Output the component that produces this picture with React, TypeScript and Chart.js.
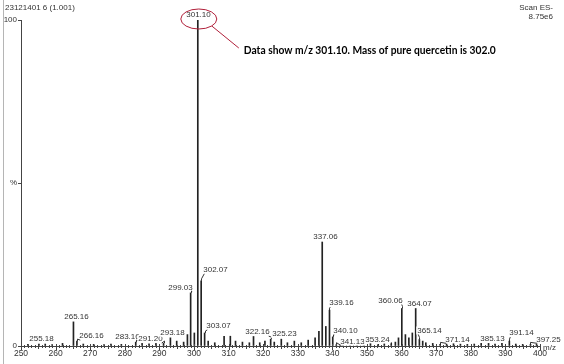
import React, { useEffect, useRef } from "react";
import { Chart, registerables } from "chart.js";

Chart.register(...registerables);

// ---- data ----
const peakMz = [
  252, 255.18, 257, 259, 262, 265.16, 266.16, 268, 271, 274, 276, 279, 283.16, 285, 287, 289,
  291.2, 293.18, 295, 297, 298.1, 299.03, 300.1, 301.1, 302.07, 303.07, 304.1, 306, 308.7, 310.5,
  312, 314, 316, 317.2, 319, 320.5, 322.16, 323.2, 325.23, 327, 329, 331, 333, 335, 336.1, 337.06,
  338.1, 339.16, 340.1, 341.13, 343, 345, 347, 349, 351, 353.24, 355, 357, 358.2, 359.1, 360.06,
  361.1, 362.1, 363.1, 364.07, 365.14, 366.1, 367, 369, 371.14, 373, 375, 377, 379, 381, 383,
  385.13, 387, 389, 391.14, 393, 395, 397.25, 399,
];
const peakIntensity = [
  0.5, 0.6, 0.6, 0.4, 0.8, 7.4, 1.5, 0.6, 0.5, 0.4, 0.6, 0.5, 1.2, 0.8, 0.7, 1.0,
  0.9, 2.5, 1.5, 1.2, 3.5, 16.3, 4.0, 100, 20, 4.0, 1.5, 1.0, 3.0, 3.0,
  1.5, 1.2, 1.0, 3.5, 1.0, 1.5, 2.1, 1.2, 2.1, 1.0, 1.5, 1.0, 1.8, 2.5, 4.5, 31.9,
  6.0, 11, 2.8, 0.4, 0.8, 0.6, 0.8, 1.0, 0.8, 0.5, 0.7, 1.0, 1.2, 2.5, 11.5,
  3.5, 2.5, 4.0, 11.5, 2.0, 1.5, 1.0, 0.8, 0.5, 0.6, 0.8, 0.6, 0.5, 0.6, 0.8,
  0.8, 0.6, 0.8, 1.5, 0.6, 0.5, 0.5, 0.5,
];
const labelledMz = [
  255.18, 265.16, 266.16, 283.16, 291.2, 293.18, 299.03, 301.1, 302.07, 303.07, 322.16, 325.23,
  337.06, 339.16, 340.1, 341.13, 353.24, 360.06, 364.07, 365.14, 371.14, 385.13, 391.14, 397.25,
];
const xTickValues = [250, 260, 270, 280, 290, 300, 310, 320, 330, 340, 350, 360, 370, 380, 390, 400];
const yTickLabels: Record<number, string> = { 0: "0", 50: "%", 100: "100" };
const headerLeft = "23121401 6 (1.001)";
const headerRight = ["Scan ES-", "8.75e6"];
const axisUnit = "m/z";
const annotationText = "Data show m/z 301.10. Mass of pure quercetin is 302.0";
const annotatedMz = 301.1;

// ---- style: label offsets (px) relative to default position above the peak ----
const labelOffset: Record<string, [number, number]> = {
  "255.18": [2, 0],
  "265.16": [3, 0],
  "266.16": [14, 0],
  "283.16": [-9, 0],
  "291.20": [-14, 1],
  "293.18": [2, 0],
  "299.03": [-11, 0],
  "302.07": [14, -6],
  "303.07": [13, -2],
  "322.16": [-14, -2],
  "325.23": [3, 0],
  "337.06": [3, 0],
  "339.16": [12, -2],
  "340.10": [12, -1],
  "341.13": [16, 2],
  "353.24": [-1, 0],
  "360.06": [-12, -3],
  "364.07": [3, 0],
  "365.14": [10, -4],
  "371.14": [17, 0],
  "385.13": [3, 0],
  "391.14": [12, -3],
  "397.25": [18, 0],
};

const FONT = "'Liberation Sans', Arial, sans-serif";

const decorPlugin = {
  id: "decor",
  afterDatasetsDraw(chart: any) {
    const { ctx, scales } = chart;
    const x = scales.x;
    const y = scales.y;
    const base = y.getPixelForValue(0);
    ctx.save();

    // minor / major ticks on x axis
    ctx.strokeStyle = "#444";
    ctx.lineWidth = 1;
    for (let m = xTickValues[0]; m <= xTickValues[xTickValues.length - 1]; m++) {
      const px = Math.round(x.getPixelForValue(m)) + 0.5;
      const major = m % 10 === 0;
      const mid = m % 5 === 0;
      ctx.beginPath();
      ctx.moveTo(px, base - (major ? 2 : 1));
      ctx.lineTo(px, base + (major ? 4 : mid ? 3 : 2));
      ctx.stroke();
    }

    // peak labels
    ctx.font = `8px ${FONT}`;
    ctx.textAlign = "center";
    ctx.textBaseline = "middle";
    labelledMz.forEach((m) => {
      const i = peakMz.indexOf(m);
      const v = peakIntensity[i];
      const px = Math.round(x.getPixelForValue(m)) + 0.5;
      const top = y.getPixelForValue(v);
      const text = m.toFixed(2);
      const [dx, dy] = labelOffset[text] || [0, 0];
      const cx = px + dx;
      const cy = top - 5 + dy;
      const w = ctx.measureText(text).width;
      ctx.fillStyle = "#fff";
      ctx.fillRect(cx - w / 2 - 1, cy - 4, w + 2, 8);
      if (Math.abs(dx) > 5) {
        const ex = cx - Math.sign(dx) * (w / 2 - 1);
        ctx.strokeStyle = "#333";
        ctx.beginPath();
        ctx.moveTo(px, top);
        ctx.lineTo(px, top - 2);
        ctx.lineTo(ex, cy + 4);
        ctx.stroke();
      }
      ctx.fillStyle = "#333";
      ctx.fillText(text, cx, cy);
    });

    // annotation ellipse + callout
    const ax = x.getPixelForValue(annotatedMz);
    const ay = y.getPixelForValue(100) - 1;
    ctx.strokeStyle = "#b0203a";
    ctx.lineWidth = 1;
    ctx.beginPath();
    ctx.ellipse(ax + 1, ay, 18, 10, 0, 0, Math.PI * 2);
    ctx.stroke();
    ctx.beginPath();
    ctx.moveTo(ax + 14, ay + 7);
    ctx.lineTo(ax + 41, ay + 29);
    ctx.stroke();
    ctx.font = `bold 11px Lato, ${FONT}`;
    ctx.textAlign = "left";
    ctx.fillStyle = "#000";
    const tw = ctx.measureText(annotationText).width;
    const target = 252;
    ctx.save();
    ctx.translate(ax + 46, ay + 31);
    ctx.scale(target / tw, 1);
    ctx.fillText(annotationText, 0, 0);
    ctx.restore();

    // unit
    ctx.font = `8px ${FONT}`;
    ctx.fillStyle = "#333";
    ctx.textAlign = "left";
    ctx.fillText(axisUnit, x.right + 3, base + 2);

    // header
    ctx.font = `8px ${FONT}`;
    ctx.textAlign = "left";
    ctx.fillText(headerLeft, 5, 8);
    ctx.textAlign = "right";
    ctx.fillText(headerRight[0], 553, 8);
    ctx.fillText(headerRight[1], 553, 17);

    // left frame line
    ctx.strokeStyle = "#b5b5b5";
    ctx.beginPath();
    ctx.moveTo(3.5, 0);
    ctx.lineTo(3.5, 364);
    ctx.stroke();

    ctx.restore();
  },
};

export default function App() {
  const ref = useRef<HTMLCanvasElement | null>(null);
  useEffect(() => {
    document.body.style.margin = "0";
    const canvas = ref.current;
    if (!canvas) return;
    const chart = new Chart(canvas, {
      type: "bar",
      data: {
        datasets: [
          {
            data: peakMz.map((m, i) => ({ x: m, y: peakIntensity[i] })),
            backgroundColor: "#222",
            borderWidth: 0,
            barThickness: 1,
          },
        ],
      },
      options: {
        responsive: false,
        animation: false,
        devicePixelRatio: 1,
        layout: { padding: { top: 20, right: 24, left: 0, bottom: 0 } },
        plugins: { legend: { display: false }, tooltip: { enabled: false } },
        scales: {
          x: {
            type: "linear",
            offset: false,
            min: 250,
            max: 400,
            afterFit: (s: any) => {
              s.height = 18;
              s.paddingLeft = 0;
              s.paddingRight = 0;
            },
            afterBuildTicks: (s: any) => {
              s.ticks = xTickValues.map((v) => ({ value: v }));
            },
            grid: { display: false, drawTicks: false, offset: false },
            border: { display: true, color: "#444", width: 1 },
            ticks: {
              autoSkip: false,
              maxRotation: 0,
              padding: 3,
              color: "#333",
              font: { size: 8.5, family: FONT },
            },
          },
          y: {
            min: 0,
            max: 100,
            afterFit: (s: any) => {
              s.width = 21;
            },
            afterBuildTicks: (s: any) => {
              s.ticks = Object.keys(yTickLabels).map((k) => ({ value: Number(k) }));
            },
            grid: { display: true, drawOnChartArea: false, tickLength: 3, color: "#444" },
            border: { display: true, color: "#444", width: 1 },
            ticks: {
              padding: 1,
              color: "#333",
              font: { size: 8, family: FONT },
              callback: (v: any) => yTickLabels[Number(v)] ?? "",
            },
          },
        },
      },
      plugins: [decorPlugin],
    });
    return () => chart.destroy();
  }, []);
  return (
    <div style={{ width: 564, height: 364, background: "#fff" }}>
      <canvas ref={ref} width={564} height={364} />
    </div>
  );
}
